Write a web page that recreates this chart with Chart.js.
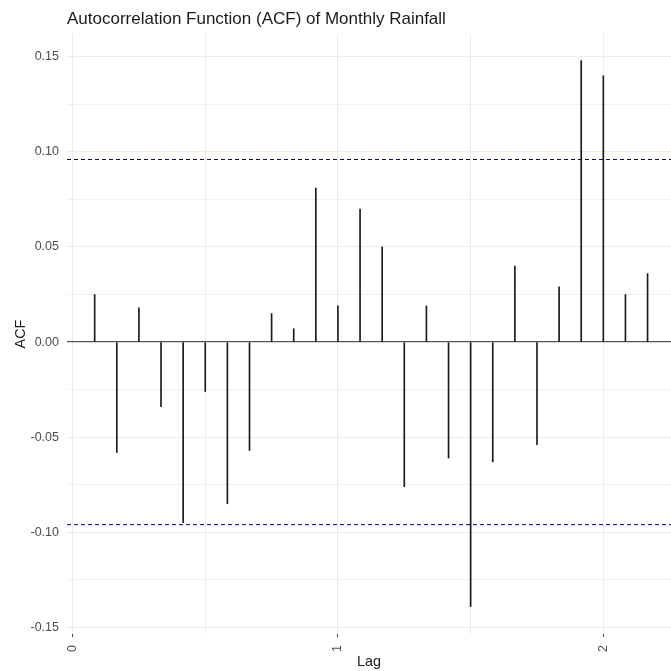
<!DOCTYPE html>
<html>
<head>
<meta charset="utf-8">
<script src="https://cdn.jsdelivr.net/npm/chart.js"></script>
<style>
  html, body { margin: 0; padding: 0; background: #fff; }
  #wrap { width: 671px; height: 671px; }
</style>
</head>
<body>
<div id="wrap"><canvas id="acf"></canvas></div>
<script>
  // lag in years (monthly series, lag k/12)
  const lags = [0.0833, 0.1667, 0.25, 0.3333, 0.4167, 0.5, 0.5833, 0.6667, 0.75, 0.8333, 0.9167, 1.0,
                1.0833, 1.1667, 1.25, 1.3333, 1.4167, 1.5, 1.5833, 1.6667, 1.75, 1.8333, 1.9167, 2.0,
                2.0833, 2.1667];
  const acfValues = [0.025, -0.058, 0.018, -0.034, -0.095, -0.026, -0.085, -0.057, 0.015, 0.007, 0.081, 0.019,
                     0.070, 0.050, -0.076, 0.019, -0.061, -0.139, -0.063, 0.040, -0.054, 0.029, 0.148, 0.140,
                     0.025, 0.036];
  const confLimit = 0.096;
  const xTicks = [0, 0.5, 1, 1.5, 2];
  const yTicks = [-0.15, -0.125, -0.1, -0.075, -0.05, -0.025, 0, 0.025, 0.05, 0.075, 0.1, 0.125, 0.15];
  const xRange = [-0.021, 2.255];
  const yRange = [-0.1535, 0.162];

  const font = '"Liberation Sans", Arial, sans-serif';
  const onStep = (v, step) => Math.abs(v / step - Math.round(v / step)) < 1e-6;
  const tv = c => (c && c.tick ? c.tick.value : NaN);

  new Chart(document.getElementById('acf'), {
    type: 'bar',
    data: {
      datasets: [
        {
          type: 'bar',
          data: lags.map((x, i) => ({ x, y: acfValues[i] })),
          backgroundColor: '#1a1a1a',
          barThickness: 1,
          order: 2,
        },
        {
          type: 'line',
          data: xRange.map(x => ({ x, y: confLimit })),
          borderColor: '#00008b',
          borderWidth: 1,
          borderDash: [4, 3],
          pointRadius: 0,
          order: 1,
        },
        {
          type: 'line',
          data: xRange.map(x => ({ x, y: -confLimit })),
          borderColor: '#00008b',
          borderWidth: 1,
          borderDash: [4, 3],
          pointRadius: 0,
          order: 1,
        },
      ],
    },
    options: {
      responsive: true,
      maintainAspectRatio: false,
      animation: false,
      layout: { padding: 0 },
      plugins: {
        legend: { display: false },
        tooltip: { enabled: false },
        title: {
          display: true,
          text: 'Autocorrelation Function (ACF) of Monthly Rainfall',
          align: 'start',
          fullSize: false,
          color: '#1a1a1a',
          font: { family: font, size: 17, weight: 'normal' },
          padding: { top: 8.8, bottom: 4.8 },
        },
      },
      scales: {
        x: {
          type: 'linear',
          min: xRange[0],
          max: xRange[1],
          offset: false,
          afterBuildTicks: s => { s.ticks = xTicks.map(value => ({ value })); },
          afterFit: s => { s.height = 37; s.paddingLeft = 0; s.paddingRight = 0; },
          border: { display: false },
          grid: {
            offset: false,
            color: '#ebebeb',
            tickColor: c => Number.isInteger(tv(c)) ? '#444' : 'transparent',
            tickLength: 3,
          },
          ticks: {
            autoSkip: false,
            minRotation: 90,
            maxRotation: 90,
            padding: 8,
            color: '#4d4d4d',
            font: { family: font, size: 12.5 },
            callback: v => Number.isInteger(v) ? String(v) : '',
          },
          title: {
            display: true,
            text: 'Lag',
            color: '#1a1a1a',
            font: { family: font, size: 14.4 },
            padding: { top: 0, bottom: 0 },
          },
        },
        y: {
          min: yRange[0],
          max: yRange[1],
          afterBuildTicks: s => { s.ticks = yTicks.map(value => ({ value })); },
          afterFit: s => { s.width = 67; s.paddingTop = 0; s.paddingBottom = 0; },
          border: { display: false },
          grid: {
            drawTicks: false,
            color: c => tv(c) === 0 ? '#555' : '#ebebeb',
            lineWidth: c => tv(c) === 0 ? 1.2 : onStep(tv(c), 0.05) ? 1 : 0.7,
          },
          ticks: {
            padding: 8,
            color: '#4d4d4d',
            font: { family: font, size: 12.5 },
            callback: v => onStep(v, 0.05) ? v.toFixed(2) : '',
          },
          title: {
            display: true,
            text: 'ACF',
            color: '#1a1a1a',
            font: { family: font, size: 14.4 },
            padding: { top: 12, bottom: 0 },
          },
        },
      },
    },
  });
</script>
</body>
</html>
